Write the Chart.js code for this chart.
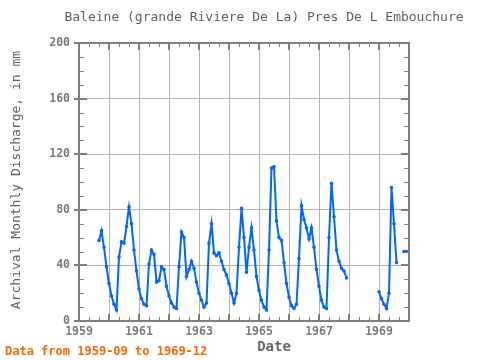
<!DOCTYPE html>
<html>
<head>
<meta charset="utf-8">
<script src="https://cdn.jsdelivr.net/npm/chart.js@4/dist/chart.umd.min.js"></script>
<style>
html,body{margin:0;padding:0;background:#fff;}
#wrap{width:480px;height:360px;position:relative;}
</style>
</head>
<body>
<div id="wrap"><canvas id="c" width="480" height="360"></canvas></div>
<script>
// ---- data (monthly discharge, mm), Jan..Dec per year; null = missing ----
const years = [1959, 1960, 1961, 1962, 1963, 1964, 1965, 1966, 1967, 1968, 1969];
const d1959 = [null, null, null, null, null, null, null, null, 58, 65, 53, 39];
const d1960 = [27, 18, 12, 8, 46, 57, 56, 68, 82, 70, 51, 36];
const d1961 = [23, 16, 12, 11, 41, 51, 48, 28, 29, 39, 37, 25];
const d1962 = [18, 13, 10, 9, 39, 64, 60, 32, 37, 43, 38, 28];
const d1963 = [20, 15, 10, 13, 56, 70, 49, 47, 49, 43, 37, 33];
const d1964 = [27, 20, 13, 20, 53, 81, 60, 35, 53, 67, 51, 32];
const d1965 = [22, 15, 10, 8, 51, 110, 111, 72, 60, 58, 42, 27];
const d1966 = [17, 11, 9, 12, 45, 83, 73, 67, 59, 67, 53, 37];
const d1967 = [25, 15, 10, 9, 60, 99, 75, 51, 43, 38, 36, 31];
const d1968 = [null, null, null, null, null, null, null, null, null, null, null, null];
const d1969 = [21, 16, 12, 9, 20, 96, 70, 42, null, null, 50, 50];
const yearly = [d1959, d1960, d1961, d1962, d1963, d1964, d1965, d1966, d1967, d1968, d1969];

const xTickYears = [1959, 1961, 1963, 1965, 1967, 1969];
const yTicks = [0, 40, 80, 120, 160, 200];

const titleText = "Baleine (grande Riviere De La) Pres De L Embouchure";
const yTitleText = "Archival Monthly Discharge, in mm";
const xTitleText = "Date";
const footerText = "Data from 1959-09 to 1969-12";

// build points
const points = [];
years.forEach((yr, i) => {
  yearly[i].forEach((v, m) => {
    points.push({x: yr + m / 12, y: v});
  });
});
while (points.length && points[0].y === null) points.shift();

const MONO = '"DejaVu Sans Mono", "Liberation Mono", monospace';
const GRAY = '#7a7a7a';

const framePlugin = {
  id: 'frame',
  afterDraw(chart) {
    const ctx = chart.ctx;
    const a = chart.chartArea;
    const xs = chart.scales.x, ys = chart.scales.y;
    ctx.save();
    ctx.strokeStyle = '#7f7f7f';
    ctx.lineWidth = 1;
    ctx.beginPath();
    for (let v = xs.min; v <= xs.max + 1e-9; v += 1/3) {
      const px = Math.round(xs.getPixelForValue(v)) + 0.5;
      ctx.moveTo(px, a.bottom); ctx.lineTo(px, a.bottom - 4);
      ctx.moveTo(px, a.top); ctx.lineTo(px, a.top + 4);
    }
    for (let v = ys.min; v <= ys.max; v += 10) {
      const py = Math.round(ys.getPixelForValue(v)) + 0.5;
      ctx.moveTo(a.left, py); ctx.lineTo(a.left + 5, py);
      ctx.moveTo(a.right, py); ctx.lineTo(a.right - 5, py);
    }
    ctx.stroke();
    ctx.lineWidth = 2;
    ctx.beginPath();
    for (let v = xs.min; v <= xs.max; v += 1) {
      const px = Math.round(xs.getPixelForValue(v));
      ctx.moveTo(px, a.bottom); ctx.lineTo(px, a.bottom - 7);
      ctx.moveTo(px, a.top); ctx.lineTo(px, a.top + 7);
    }
    yTicks.forEach(v => {
      const py = Math.round(ys.getPixelForValue(v));
      ctx.moveTo(a.left - 5, py); ctx.lineTo(a.left + 8, py);
      ctx.moveTo(a.right, py); ctx.lineTo(a.right - 8, py);
    });
    ctx.stroke();
    ctx.lineWidth = 2;
    ctx.strokeRect(a.left, a.top, a.right - a.left, a.bottom - a.top);

    ctx.fillStyle = '#5f5f5f';
    ctx.font = '13px ' + MONO;
    ctx.textAlign = 'center';
    ctx.textBaseline = 'middle';
    ctx.fillText(titleText, 264, 18);

    ctx.save();
    ctx.translate(17, 180);
    ctx.rotate(-Math.PI / 2);
    ctx.font = '13px ' + MONO;
    ctx.fillText(yTitleText, 0, 0);
    ctx.restore();

    ctx.fillStyle = '#666666';
    ctx.font = 'bold 14px ' + MONO;
    ctx.fillText(xTitleText, 274, 347);

    ctx.fillStyle = '#ff6600';
    ctx.font = 'bold 12px ' + MONO;
    ctx.textAlign = 'left';
    ctx.fillText(footerText, 5, 352);
    ctx.restore();
  }
};

new Chart(document.getElementById('c'), {
  type: 'line',
  data: {
    datasets: [{
      data: points,
      borderColor: '#0066ff',
      backgroundColor: '#0066ff',
      borderWidth: 2,
      pointRadius: 0.8,
      pointHoverRadius: 0,
      tension: 0,
      spanGaps: false,
      fill: false
    }]
  },
  options: {
    responsive: false,
    animation: false,
    devicePixelRatio: 1,
    layout: {padding: {top: 43, right: 71, left: 0, bottom: 0}},
    plugins: {legend: {display: false}, tooltip: {enabled: false}, title: {display: false}},
    scales: {
      x: {
        type: 'linear',
        min: 1959, max: 1970,
        afterFit(s) { s.height = 39; },
        afterBuildTicks(s) {
          const t = [];
          for (let v = 1959; v <= 1970; v++) t.push({value: v});
          s.ticks = t;
        },
        ticks: {
          autoSkip: false,
          maxRotation: 0,
          padding: 4,
          color: GRAY,
          font: {family: MONO, size: 11.5, weight: 'bold'},
          callback: v => xTickYears.includes(v) ? String(v) : ''
        },
        grid: {color: '#b4b4b4', lineWidth: 1, drawTicks: false},
        border: {display: false}
      },
      y: {
        min: 0, max: 200,
        afterFit(s) { s.width = 79; },
        afterBuildTicks(s) { s.ticks = yTicks.map(v => ({value: v})); },
        ticks: {
          padding: 9,
          color: GRAY,
          font: {family: MONO, size: 11.5, weight: 'bold'}
        },
        grid: {color: '#b4b4b4', lineWidth: 1, drawTicks: false},
        border: {display: false}
      }
    }
  },
  plugins: [framePlugin]
});
</script>
</body>
</html>
